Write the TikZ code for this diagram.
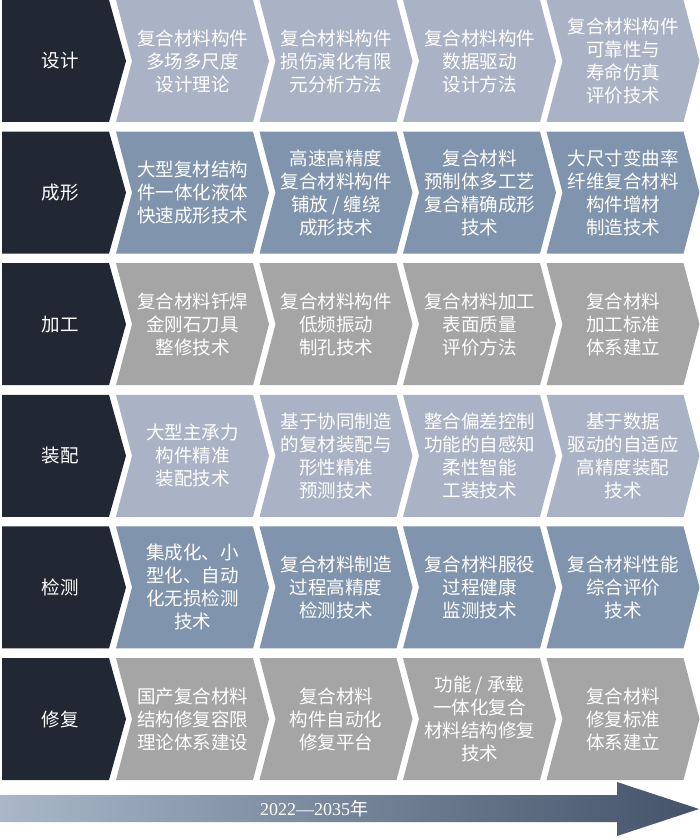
\documentclass[tikz,border=0pt]{standalone}
\usepackage{fontspec}
\setmainfont{Liberation Serif}
\newfontfamily\cjk{Noto Sans CJK SC}
\definecolor{labfill}{HTML}{212833}
\definecolor{rowA}{HTML}{AAB3C5}
\definecolor{rowB}{HTML}{8094AD}
\definecolor{rowC}{HTML}{A5A5A5}
\definecolor{arrL}{HTML}{A9B7C9}
\definecolor{arrR}{HTML}{44526A}
\tikzset{
  labtext/.style={text=white, font=\cjk\fontsize{18.5}{23}\selectfont, inner sep=0pt},
  boxtext/.style={text=white, font=\cjk\fontsize{18.5}{23}\selectfont, align=center, inner sep=0pt},
  yeartext/.style={text=white, font=\fontsize{18}{22}\selectfont, inner sep=0pt}
}
\newcommand\mychev[4]{%
  \pgfmathsetmacro\xL{116+143.5*#2}%
  \pgfmathsetmacro\xR{\xL+137}%
  \fill[#3] (\xL,\yT) -- (\xR,\yT) -- (\xR+16,\yM) -- (\xR,\yB) -- (\xL,\yB) -- (\xL+16,\yM) -- cycle;
  \node[boxtext] (r#1c#2) at ({(\xL+\xR)/2+8},\yM) {#4};
}
\newcommand\mychevrow[7]{%
  \pgfmathsetmacro\yT{131.6*#1}%
  \pgfmathsetmacro\yB{\yT+122}%
  \pgfmathsetmacro\yM{\yT+61}%
  \fill[labfill] (2,\yT) -- (109,\yT) -- (126,\yM) -- (109,\yB) -- (2,\yB) -- cycle;
  \node[labtext] (lab#1) at (60,\yM) {#2};
  \mychev{#1}{0}{#3}{#4}
  \mychev{#1}{1}{#3}{#5}
  \mychev{#1}{2}{#3}{#6}
  \mychev{#1}{3}{#3}{#7}
}
\begin{document}
\begin{tikzpicture}[x=1pt,y=-1pt]
\useasboundingbox (0,0) rectangle (700,840);
\fill[white] (0,0) rectangle (700,840);
\mychevrow{0}{设计}{rowA}{复合材料构件\\多场多尺度\\设计理论}{复合材料构件\\损伤演化有限\\元分析方法}{复合材料构件\\数据驱动\\设计方法}{复合材料构件\\可靠性与\\寿命仿真\\评价技术}
\mychevrow{1}{成形}{rowB}{大型复材结构\\件一体化液体\\快速成形技术}{高速高精度\\复合材料构件\\铺放 / 缠绕\\成形技术}{复合材料\\预制体多工艺\\复合精确成形\\技术}{大尺寸变曲率\\纤维复合材料\\构件增材\\制造技术}
\mychevrow{2}{加工}{rowC}{复合材料钎焊\\金刚石刀具\\整修技术}{复合材料构件\\低频振动\\制孔技术}{复合材料加工\\表面质量\\评价方法}{复合材料\\加工标准\\体系建立}
\mychevrow{3}{装配}{rowA}{大型主承力\\构件精准\\装配技术}{基于协同制造\\的复材装配与\\形性精准\\预测技术}{整合偏差控制\\功能的自感知\\柔性智能\\工装技术}{基于数据\\驱动的自适应\\高精度装配\\技术}
\mychevrow{4}{检测}{rowB}{集成化、小\\型化、自动\\化无损检测\\技术}{复合材料制造\\过程高精度\\检测技术}{复合材料服役\\过程健康\\监测技术}{复合材料性能\\综合评价\\技术}
\mychevrow{5}{修复}{rowC}{国产复合材料\\结构修复容限\\理论体系建设}{复合材料\\构件自动化\\修复平台}{功能 / 承载\\一体化复合\\材料结构修复\\技术}{复合材料\\修复标准\\体系建立}
\shade[left color=arrL, right color=arrR] (0,795) -- (617,795) -- (617,782) -- (699,809) -- (617,836) -- (617,822) -- (0,822) -- cycle;
\node[yeartext] (years) at (314,809) {2022—2035{\cjk 年}};
\end{tikzpicture}
\end{document}
